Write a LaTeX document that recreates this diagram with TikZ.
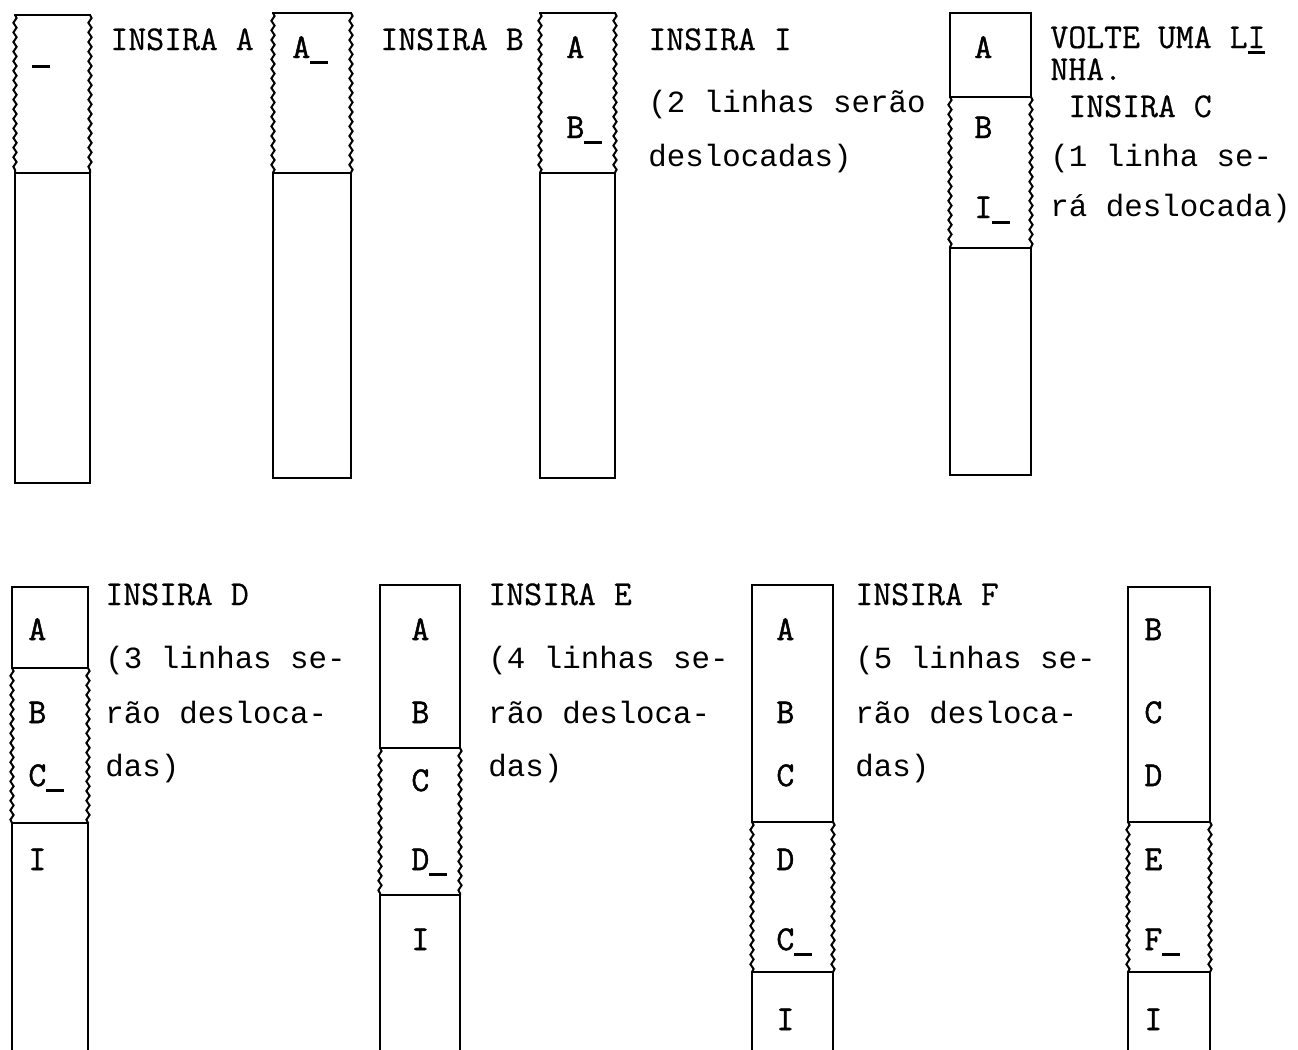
\documentclass[tikz,border=0pt]{standalone}
\usepackage{fontspec}
\newfontfamily\tw{Liberation Mono}
\newfontfamily\tc{Latin Modern Mono}[FakeBold=0.5]
\newfontfamily\tcb{Latin Modern Mono}[FakeBold=1.4]
\newcommand\cur{\makebox[0.525em][l]{\rule[-3pt]{0.5em}{1.4pt}}}
\usetikzlibrary{decorations.pathmorphing}
\tikzset{
  colline/.style={line width=1.1pt, line cap=rect},
  wavy/.style={line width=1pt, decorate, decoration={snake, amplitude=0.8pt, segment length=4.8pt}},
  lbl/.style={anchor=base west, inner sep=0pt, font=\tw\fontsize{15.4}{18}\selectfont},
  caps/.style={anchor=base west, inner sep=0pt, font=\tc\fontsize{17.4}{20}\selectfont},
  cell/.style={anchor=base west, inner sep=0pt, font=\tcb\fontsize{17.4}{20}\selectfont}
}
\begin{document}
\begin{tikzpicture}[x=0.5pt, y=-0.5pt]
\useasboundingbox[fill=white] (0,0) rectangle (1298,1050);
\clip (0,0) rectangle (1298,1050);

% ---------- column 1 ----------
\draw[colline] (15,15) -- (90,15);
\draw[wavy] (15,15) -- (15,173);
\draw[wavy] (90,15) -- (90,173);
\draw[colline] (15,173) rectangle (90,483);
\node[cell] (c1cur) at (32,62) {\cur};

\node[caps] (tA) at (110,50) {INSIRA A};

% ---------- column 2 ----------
\draw[colline] (273,13) -- (351,13);
\draw[wavy] (273,13) -- (273,173);
\draw[wavy] (351,13) -- (351,173);
\draw[colline] (273,173) rectangle (351,478);
\node[cell] (c2a) at (292,58) {A\cur};

\node[caps] (tB) at (380,50) {INSIRA B};

% ---------- column 3 ----------
\draw[colline] (540,13) -- (615,13);
\draw[wavy] (540,13) -- (540,173);
\draw[wavy] (615,13) -- (615,173);
\draw[colline] (540,173) rectangle (615,478);
\node[cell] (c3a) at (566,58) {A};
\node[cell] (c3b) at (566,138) {B\cur};

\node[caps] (tI1) at (648,50) {INSIRA I};
\node[lbl] (tI2) at (648,112) {(2 linhas serão};
\node[lbl] (tI3) at (648,166) {deslocadas)};

% ---------- column 4 ----------
\draw[colline] (950,13) rectangle (1031,97);
\draw[wavy] (950,97) -- (950,248);
\draw[wavy] (1031,97) -- (1031,248);
\draw[colline] (950,248) rectangle (1031,475);
\node[cell] (c4a) at (974,58) {A};
\node[cell] (c4b) at (974,138) {B};
\node[cell] (c4c) at (974,218) {I\cur};

\node[caps] (tC1) at (1050,48) {VOLTE UMA L\rlap{I}\cur};
\node[caps] (tC2) at (1050,80) {NHA.};
\node[caps] (tC3) at (1068,117) {INSIRA C};
\node[lbl] (tC4) at (1050,166) {(1 linha se-};
\node[lbl] (tC5) at (1050,216) {rá deslocada)};

% ---------- column 5 ----------
\draw[colline] (12,587) rectangle (88,668);
\draw[wavy] (12,668) -- (12,823);
\draw[wavy] (88,668) -- (88,823);
\draw[colline] (12,1060) -- (12,823) -- (88,823) -- (88,1060);
\node[cell] (c5a) at (28,640) {A};
\node[cell] (c5b) at (28,723) {B};
\node[cell] (c5c) at (28,786) {C\cur};
\node[cell] (c5d) at (28,870) {I};

\node[caps] (tD1) at (105,605) {INSIRA D};
\node[lbl] (tD2) at (105,668) {(3 linhas se-};
\node[lbl] (tD3) at (105,723) {rão desloca-};
\node[lbl] (tD4) at (105,776) {das)};

% ---------- column 6 ----------
\draw[colline] (380,585) rectangle (460,748);
\draw[wavy] (380,748) -- (380,895);
\draw[wavy] (460,748) -- (460,895);
\draw[colline] (380,1060) -- (380,895) -- (460,895) -- (460,1060);
\node[cell] (c6a) at (411,640) {A};
\node[cell] (c6b) at (411,723) {B};
\node[cell] (c6c) at (411,791) {C};
\node[cell] (c6d) at (411,870) {D\cur};
\node[cell] (c6e) at (411,950) {I};

\node[caps] (tE1) at (488,605) {INSIRA E};
\node[lbl] (tE2) at (488,668) {(4 linhas se-};
\node[lbl] (tE3) at (488,723) {rão desloca-};
\node[lbl] (tE4) at (488,776) {das)};

% ---------- column 7 ----------
\draw[colline] (752,585) rectangle (833,822);
\draw[wavy] (752,822) -- (752,972);
\draw[wavy] (833,822) -- (833,972);
\draw[colline] (752,1060) -- (752,972) -- (833,972) -- (833,1060);
\node[cell] (c7a) at (776,640) {A};
\node[cell] (c7b) at (776,723) {B};
\node[cell] (c7c) at (776,786) {C};
\node[cell] (c7d) at (776,870) {D};
\node[cell] (c7e) at (776,950) {C\cur};
\node[cell] (c7f) at (776,1030) {I};

\node[caps] (tF1) at (855,605) {INSIRA F};
\node[lbl] (tF2) at (855,668) {(5 linhas se-};
\node[lbl] (tF3) at (855,723) {rão desloca-};
\node[lbl] (tF4) at (855,776) {das)};

% ---------- column 8 ----------
\draw[colline] (1128,587) rectangle (1210,822);
\draw[wavy] (1128,822) -- (1128,972);
\draw[wavy] (1210,822) -- (1210,972);
\draw[colline] (1128,1060) -- (1128,972) -- (1210,972) -- (1210,1060);
\node[cell] (c8a) at (1144,640) {B};
\node[cell] (c8b) at (1144,723) {C};
\node[cell] (c8c) at (1144,786) {D};
\node[cell] (c8d) at (1144,870) {E};
\node[cell] (c8e) at (1144,950) {F\cur};
\node[cell] (c8f) at (1144,1030) {I};
\end{tikzpicture}
\end{document}
